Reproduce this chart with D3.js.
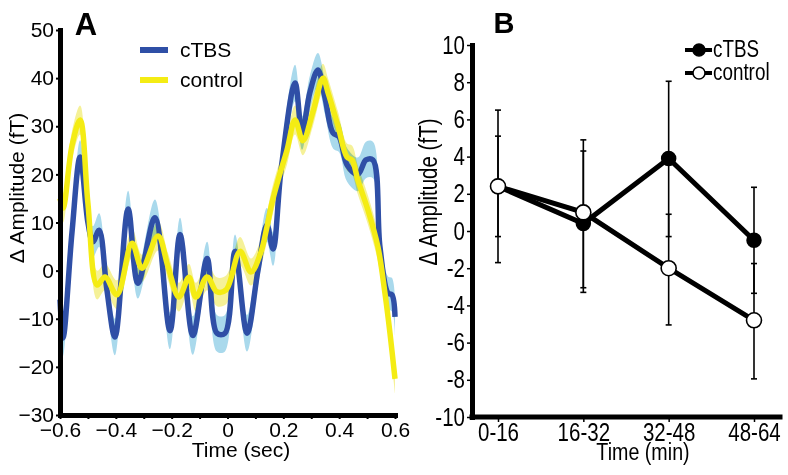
<!DOCTYPE html>
<html><head><meta charset="utf-8">
<script src="https://cdn.jsdelivr.net/npm/d3@7/dist/d3.min.js"></script>
<style>
body{margin:0;background:#fff}
text{font-family:"Liberation Sans",Arial,sans-serif;fill:#000}
</style>
</head><body>
<svg id="chart" width="788" height="475" style="background:#fff"></svg>
<script>
// ---------- Panel A data ----------
const timeCtbs = [-0.600,-0.589,-0.557,-0.528,-0.500,-0.482,-0.460,-0.432,-0.403,-0.356,-0.321,-0.260,-0.206,-0.170,-0.124,-0.073,-0.038,-0.009,0.027,0.070,0.109,0.141,0.163,0.192,0.242,0.267,0.295,0.324,0.349,0.378,0.400,0.428,0.467,0.496,0.521,0.546,0.575,0.589,0.600];
const ampCtbs  = [-6,-14,8,23.6,10,6,8.4,-4,-13.8,12.8,-2.6,11,-12.5,7.5,-13.5,2.5,-13,-13,4,-13,0,9.5,4.5,21,39,28.6,37,41.7,36,28.6,27.8,22,20,23,23,5,-4.7,-5,-9.6];
const semCtbs  = [3.5,3.8,3.5,3.5,3.2,3.2,3.5,3.2,3.8,3.8,3.2,3.8,3.8,3.5,4,3.5,3.8,3.8,3.5,3.8,3.2,3.5,3.5,3.2,3.8,3.5,3.5,3.5,3.5,3.2,3.2,3.5,3.5,3.8,3.8,3.5,3.5,3.5,3.8];
const timeControl = [-0.600,-0.589,-0.557,-0.528,-0.500,-0.467,-0.439,-0.396,-0.342,-0.306,-0.249,-0.213,-0.174,-0.138,-0.113,-0.073,-0.038,-0.005,0.045,0.084,0.120,0.141,0.159,0.184,0.213,0.242,0.270,0.306,0.342,0.360,0.396,0.428,0.446,0.467,0.503,0.539,0.564,0.582,0.600];
const ampControl  = [15,13,26,31.3,14,-3,-1.3,-5,5.7,0.5,7.2,0.8,-5.5,-1.4,-5.5,-1.3,-4.4,-4,4,-0.3,3.9,9,14,19.4,25,31.3,27,33,40,37,30,23.6,23,18.8,12.6,4.9,-4.7,-13,-22.5];
const semControl  = [3,3,3,3,2.8,3,2.8,3,3,2.8,3,2.8,3,2.8,3,2.8,3,3,3,2.8,2.8,3,3,2.8,3,3,3,3,3,3,3,2.8,3,3,3,3,3,3,3];
const xTicksA = [-0.6,-0.5,-0.4,-0.3,-0.2,-0.1,0,0.1,0.2,0.3,0.4,0.5,0.6];
const xLabelsA = ["−0.6","","−0.4","","−0.2","","0","","0.2","","0.4","","0.6"];
const yTicksA = [50,40,30,20,10,0,-10,-20,-30];
const yLabelsA = ["50","40","30","20","10","0","−10","−20","−30"];
const seriesNamesA = ["cTBS","control"];

// ---------- Panel B data ----------
const blocks = ["0-16","16-32","32-48","48-64"];
const meanCtbs = [2.4,0.4,3.9,-0.5];
const errHiCtbs = [6.5,4.3,8.05,2.35];
const errLoCtbs = [-1.7,-3.3,-0.3,-3.35];
const meanControl = [2.4,1.0,-2.0,-4.8];
const errHiControl = [5.1,4.9,0.9,-1.75];
const errLoControl = [-0.3,-3.05,-5.05,-7.95];
const yTicksB = [10,8,6,4,2,0,-2,-4,-6,-8,-10];

const svg = d3.select("#chart");
const NARROW = 0.82;

// squeeze a text horizontally (emulates a condensed face)
function narrowText(sel, sx){
  sel.each(function(){
    const t = d3.select(this);
    const x = +t.attr("x") || 0, y = +t.attr("y") || 0;
    t.attr("x",0).attr("y",0).attr("transform",`translate(${x},${y}) scale(${sx},1)`);
  });
}

// ================= Panel A =================
const xA = d3.scaleLinear().domain([-0.6,0.6]).range([60,395]);
const yA = d3.scaleLinear().domain([-30,50]).range([415,30]);
const curve = d3.curveCatmullRom.alpha(0.5);

function pts(t,v,s){return t.map((d,i)=>({t:d,v:v[i],s:s?s[i]:0}));}
const ctbs = pts(timeCtbs,ampCtbs,semCtbs);
const ctrl = pts(timeControl,ampControl,semControl);

const area = d3.area().curve(curve).x(d=>xA(d.t)).y0(d=>yA(d.v-d.s)).y1(d=>yA(d.v+d.s));
const line = d3.line().curve(curve).x(d=>xA(d.t)).y(d=>yA(d.v));

const gA = svg.append("g");
gA.append("path").attr("d",area(ctbs)).attr("fill","#a9d9ec");
gA.append("path").attr("d",area(ctrl)).attr("fill","#f4ef86").style("mix-blend-mode","multiply").attr("opacity",0.85);
gA.append("path").attr("d",line(ctbs)).attr("fill","none").attr("stroke","#2f4fa6").attr("stroke-width",5.5).attr("stroke-linejoin","round");
gA.append("path").attr("d",line(ctrl)).attr("fill","none").attr("stroke","#f4ec14").attr("stroke-width",5.5).attr("stroke-linejoin","round");

// axes A
const axYA = d3.axisLeft(yA).tickValues(yTicksA).tickSize(4).tickSizeOuter(0).tickPadding(2)
  .tickFormat((d,i)=>yLabelsA[i]);
const gyA = svg.append("g").attr("transform","translate(60,0)").call(axYA);
const axXA = d3.axisBottom(xA).tickValues(xTicksA).tickSize(4).tickSizeOuter(0).tickPadding(3)
  .tickFormat((d,i)=>xLabelsA[i]);
const gxA = svg.append("g").attr("transform","translate(0,415)").call(axXA);
[gyA,gxA].forEach(g=>{
  g.select(".domain").attr("stroke","#000").attr("stroke-width",5).attr("stroke-linecap","square");
  g.selectAll(".tick line").attr("stroke","#000").attr("stroke-width",2);
  g.selectAll(".tick text").attr("font-size",21).attr("font-family",null).attr("fill","#000");
});

svg.append("text").attr("x",86).attr("y",35).attr("text-anchor","middle")
  .attr("font-size",31).attr("font-weight","bold").text("A");
svg.append("text").attr("transform","translate(24,188) rotate(-90)").attr("text-anchor","middle")
  .attr("font-size",21).text("Δ Amplitude (fT)");
svg.append("text").attr("x",241).attr("y",457).attr("text-anchor","middle")
  .attr("font-size",21).text("Time (sec)");

// legend A
const legColorsA = ["#2f4fa6","#f4ec14"];
const legYA = [50,80];
seriesNamesA.forEach((n,i)=>{
  svg.append("line").attr("x1",140).attr("x2",168).attr("y1",legYA[i]).attr("y2",legYA[i])
    .attr("stroke",legColorsA[i]).attr("stroke-width",6);
  svg.append("text").attr("x",180).attr("y",legYA[i]+7).attr("font-size",21).text(n);
});

// ================= Panel B =================
const xB = d3.scalePoint().domain(blocks).range([498,754]);
const yB = d3.scaleLinear().domain([-10,10]).range([417,45]);

const gB = svg.append("g");
function errBars(mean,hi,lo){
  blocks.forEach((b,i)=>{
    const x = xB(b);
    gB.append("line").attr("x1",x).attr("x2",x).attr("y1",yB(hi[i])).attr("y2",yB(lo[i]))
      .attr("stroke","#000").attr("stroke-width",1.6);
    [hi[i],lo[i]].forEach(v=>{
      gB.append("line").attr("x1",x-3).attr("x2",x+3).attr("y1",yB(v)).attr("y2",yB(v))
        .attr("stroke","#000").attr("stroke-width",1.6);
    });
  });
}
errBars(meanCtbs,errHiCtbs,errLoCtbs);
errBars(meanControl,errHiControl,errLoControl);

const lineB = d3.line().x((d,i)=>xB(blocks[i])).y(d=>yB(d));
gB.append("path").attr("d",lineB(meanCtbs)).attr("fill","none").attr("stroke","#000").attr("stroke-width",5);
gB.append("path").attr("d",lineB(meanControl)).attr("fill","none").attr("stroke","#000").attr("stroke-width",5);
gB.selectAll("circle.c").data(meanCtbs).join("circle").attr("class","c")
  .attr("cx",(d,i)=>xB(blocks[i])).attr("cy",d=>yB(d)).attr("r",7)
  .attr("fill","#000").attr("stroke","#000").attr("stroke-width",1.5);
gB.selectAll("circle.o").data(meanControl).join("circle").attr("class","o")
  .attr("cx",(d,i)=>xB(blocks[i])).attr("cy",d=>yB(d)).attr("r",7.5)
  .attr("fill","#fff").attr("stroke","#000").attr("stroke-width",1.6);

// axes B
const axYB = d3.axisLeft(yB).tickValues(yTicksB).tickSize(5).tickSizeOuter(0).tickPadding(2).tickFormat(d=>String(d));
const gyB = svg.append("g").attr("transform","translate(472,0)").call(axYB);
const axXB = d3.axisBottom(xB).tickSize(5).tickSizeOuter(0).tickPadding(1);
const gxB = svg.append("g").attr("transform","translate(0,417)").call(axXB);
gxB.select(".domain").attr("d","M472,0H780");
[gyB,gxB].forEach(g=>{
  g.select(".domain").attr("stroke","#000").attr("stroke-width",5).attr("stroke-linecap","square");
  g.selectAll(".tick line").attr("stroke","#000").attr("stroke-width",1.5);
  g.selectAll(".tick text").attr("font-size",25).attr("font-family",null).attr("fill","#000");
});
narrowText(gyB.selectAll(".tick text"), NARROW);
narrowText(gxB.selectAll(".tick text"), NARROW);

svg.append("text").attr("x",504).attr("y",33).attr("text-anchor","middle")
  .attr("font-size",29).attr("font-weight","bold").text("B");
svg.append("text").attr("transform",`translate(437,192) rotate(-90) scale(${NARROW},1)`).attr("text-anchor","middle")
  .attr("font-size",25).text("Δ Amplitude (fT)");
svg.append("text").attr("transform",`translate(643,460) scale(${NARROW},1)`).attr("text-anchor","middle")
  .attr("font-size",24).text("Time (min)");

// legend B
const legYB = [50,73];
const legFill = ["#000","#fff"];
seriesNamesA.forEach((n,i)=>{
  svg.append("line").attr("x1",685).attr("x2",712).attr("y1",legYB[i]).attr("y2",legYB[i])
    .attr("stroke","#000").attr("stroke-width",4);
  svg.append("circle").attr("cx",699).attr("cy",legYB[i]).attr("r",6)
    .attr("fill",legFill[i]).attr("stroke","#000").attr("stroke-width",1.5);
  svg.append("text").attr("transform",`translate(713,${legYB[i]+7}) scale(${NARROW},1)`)
    .attr("font-size",23).text(n);
});
</script>
</body></html>
